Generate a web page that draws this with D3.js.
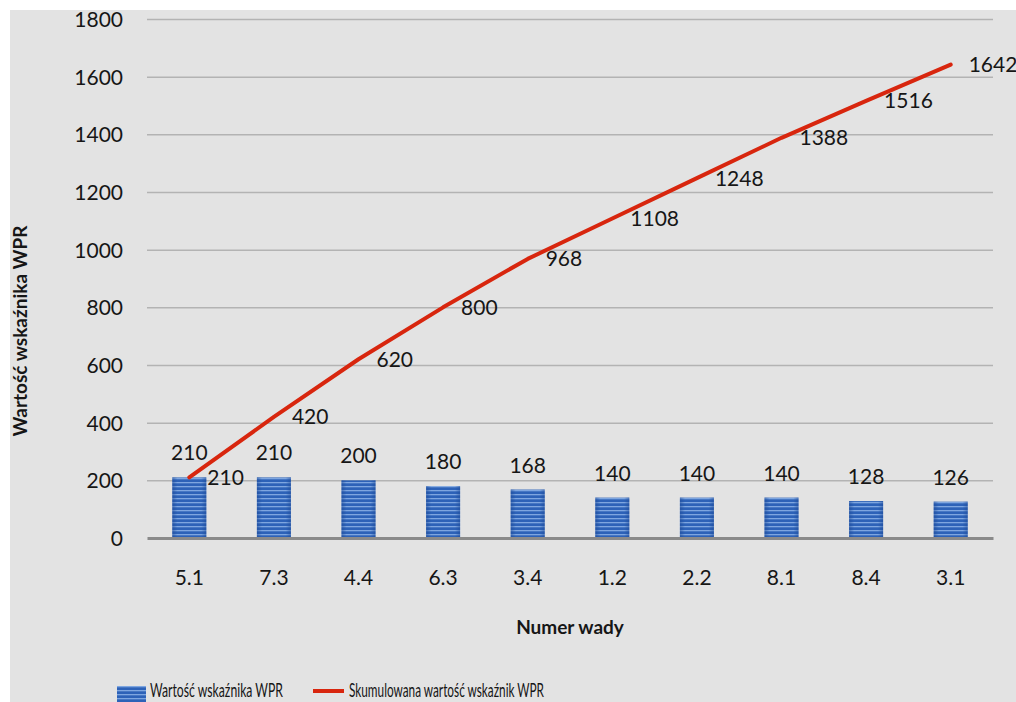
<!DOCTYPE html>
<html>
<head>
<meta charset="utf-8">
<script src="https://cdn.jsdelivr.net/npm/d3@7"></script>
<style>
  html, body { margin: 0; padding: 0; background: #ffffff; }
  svg { display: block; }
  text { font-family: Lato, "Open Sans", sans-serif; fill: #161616; }
</style>
</head>
<body>
<svg id="chart" width="1016" height="702"></svg>
<script>
// Wady i ich wartości wskaźnika WPR
const categories = ["5.1", "7.3", "4.4", "6.3", "3.4", "1.2", "2.2", "8.1", "8.4", "3.1"];
const wprValues = [210, 210, 200, 180, 168, 140, 140, 140, 128, 126];
const cumulativeValues = [210, 420, 620, 800, 968, 1108, 1248, 1388, 1516, 1642];
const yTicks = [0, 200, 400, 600, 800, 1000, 1200, 1400, 1600, 1800];
const seriesNames = ["Wartość wskaźnika WPR", "Skumulowana wartość wskaźnik WPR"];

const svg = d3.select("#chart");
const W = 1016, H = 702;

// panel tła
svg.append("rect").attr("x", 10).attr("y", 10).attr("width", W - 10).attr("height", H - 10)
  .attr("fill", "#e3e3e3");

const plot = { left: 147, right: 993, top: 19, bottom: 538 };

const x = d3.scaleBand().domain(categories).range([plot.left, plot.right]);
const y = d3.scaleLinear().domain([0, 1800]).range([plot.bottom, plot.top]);

// wzór pasków słupków
const defs = svg.append("defs");
const pat = defs.append("pattern").attr("id", "stripes").attr("patternUnits", "userSpaceOnUse")
  .attr("width", 8).attr("height", 4).attr("y", plot.bottom);
pat.append("rect").attr("width", 8).attr("height", 4).attr("fill", "#2d62b8");
pat.append("rect").attr("y", 0).attr("width", 8).attr("height", 1.3).attr("fill", "#7ea6e0");

const grad = defs.append("linearGradient").attr("id", "edge").attr("x1", 0).attr("x2", 1);
grad.append("stop").attr("offset", "0").attr("stop-color", "#1d4a98").attr("stop-opacity", 0.55);
grad.append("stop").attr("offset", "0.15").attr("stop-color", "#1d4a98").attr("stop-opacity", 0);
grad.append("stop").attr("offset", "0.85").attr("stop-color", "#1d4a98").attr("stop-opacity", 0);
grad.append("stop").attr("offset", "1").attr("stop-color", "#1d4a98").attr("stop-opacity", 0.55);

// siatka i oś Y
const yAxis = d3.axisLeft(y).tickValues(yTicks).tickFormat(d3.format("d"))
  .tickSize(-(plot.right - plot.left)).tickPadding(24);
const gy = svg.append("g").attr("transform", `translate(${plot.left},0)`).call(yAxis);
gy.select(".domain").remove();
gy.selectAll(".tick line").attr("stroke", "#b3b3b3").attr("stroke-width", 1.5)
  .filter(d => d === 0).remove();
gy.selectAll(".tick text").attr("font-size", 21).attr("font-family", "Lato, sans-serif")
  .attr("fill", "#161616").attr("dy", "0.35em");

// słupki
const bw = 34;
svg.append("g").selectAll("rect.bar").data(wprValues).join("rect")
  .attr("class", "bar")
  .attr("x", (d, i) => x(categories[i]) + x.bandwidth() / 2 - bw / 2)
  .attr("y", d => y(d))
  .attr("width", bw)
  .attr("height", d => y(0) - y(d))
  .attr("fill", "url(#stripes)");
svg.append("g").selectAll("rect.edge").data(wprValues).join("rect")
  .attr("x", (d, i) => x(categories[i]) + x.bandwidth() / 2 - bw / 2)
  .attr("y", d => y(d))
  .attr("width", bw)
  .attr("height", d => y(0) - y(d))
  .attr("fill", "url(#edge)");

// oś X
const xAxis = d3.axisBottom(x).tickSize(0).tickPadding(32);
const gx = svg.append("g").attr("transform", `translate(0,${plot.bottom})`).call(xAxis);
gx.select(".domain").attr("stroke", "#8a8a8a").attr("stroke-width", 3);
gx.selectAll(".tick text").attr("font-size", 21).attr("font-family", "Lato, sans-serif")
  .attr("fill", "#161616");

// etykiety słupków
svg.append("g").selectAll("text").data(wprValues).join("text")
  .attr("x", (d, i) => x(categories[i]) + x.bandwidth() / 2)
  .attr("y", d => y(d) - 17)
  .attr("text-anchor", "middle")
  .attr("font-size", 21)
  .text(d => d);

// linia skumulowana
const cx = i => x(categories[i]) + x.bandwidth() / 2;
const line = d3.line().x((d, i) => cx(i)).y(d => y(d));
svg.append("path").datum(cumulativeValues)
  .attr("d", line)
  .attr("fill", "none")
  .attr("stroke", "#d8260e")
  .attr("stroke-width", 4)
  .attr("stroke-linecap", "round")
  .attr("stroke-linejoin", "round");

// etykiety linii
svg.append("g").selectAll("text").data(cumulativeValues).join("text")
  .attr("x", (d, i) => cx(i) + 18)
  .attr("y", d => y(d))
  .attr("dy", "0.35em")
  .attr("font-size", 21)
  .text(d => d);

// tytuły osi
svg.append("text")
  .attr("transform", "translate(27,331) rotate(-90)")
  .attr("text-anchor", "middle")
  .attr("font-size", 19)
  .attr("font-weight", "bold")
  .text("Wartość wskaźnika WPR");

svg.append("text")
  .attr("x", 570).attr("y", 634)
  .attr("text-anchor", "middle")
  .attr("font-size", 19)
  .attr("font-weight", "bold")
  .text("Numer wady");

// legenda
const lg = svg.append("g");
lg.append("rect").attr("x", 117).attr("y", 686).attr("width", 29).attr("height", 16)
  .attr("fill", "url(#stripes)");
lg.append("text").attr("x", 150).attr("y", 697).attr("font-size", 20)
  .attr("textLength", 133).attr("lengthAdjust", "spacingAndGlyphs")
  .text(seriesNames[0]);
lg.append("line").attr("x1", 313).attr("x2", 344).attr("y1", 691).attr("y2", 691)
  .attr("stroke", "#d8260e").attr("stroke-width", 4);
lg.append("text").attr("x", 349).attr("y", 697).attr("font-size", 20)
  .attr("textLength", 195).attr("lengthAdjust", "spacingAndGlyphs")
  .text(seriesNames[1]);
</script>
</body>
</html>
